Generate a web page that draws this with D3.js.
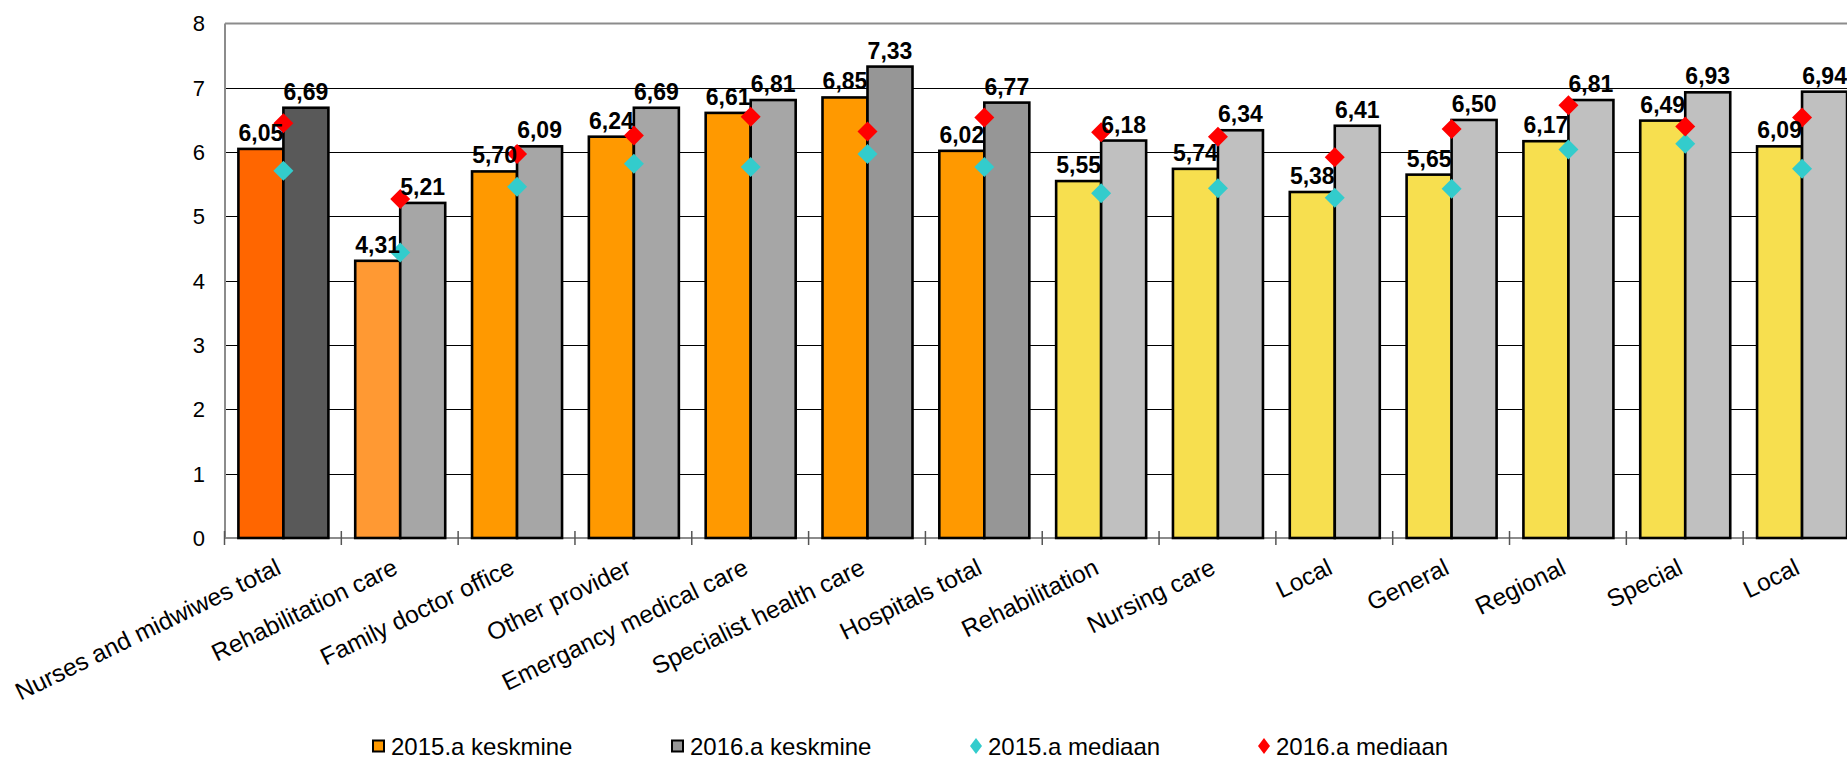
<!DOCTYPE html>
<html><head><meta charset="utf-8">
<script src="https://cdn.jsdelivr.net/npm/d3@7"></script>
<style>
body{margin:0;background:#fff;overflow:hidden;}
svg{display:block;font-family:"Liberation Sans",Arial,Helvetica,sans-serif;}
</style>
</head><body>
<svg id="chart" width="1847" height="759"></svg>
<script>
// ---------- data ----------
const categories = ["Nurses and midwiwes total","Rehabilitation care","Family doctor office","Other provider",
  "Emergancy medical care","Specialist health care","Hospitals total","Rehabilitation","Nursing care",
  "Local","General","Regional","Special","Local"];
const mean2015   = [6.05,4.31,5.70,6.24,6.61,6.85,6.02,5.55,5.74,5.38,5.65,6.17,6.49,6.09];
const mean2016   = [6.69,5.21,6.09,6.69,6.81,7.33,6.77,6.18,6.34,6.41,6.50,6.81,6.93,6.94];
const median2015 = [5.71,4.44,5.46,5.82,5.77,5.97,5.77,5.36,5.44,5.29,5.43,6.04,6.13,5.74];
const median2016 = [6.45,5.27,5.97,6.26,6.55,6.32,6.54,6.31,6.24,5.92,6.36,6.73,6.40,6.54];
const yTicks = [0,1,2,3,4,5,6,7,8];
const seriesNames = ["2015.a keskmine","2016.a keskmine","2015.a mediaan","2016.a mediaan"];

// ---------- styles ----------
const fill2015 = ["#FF6600","#FF9933","#FF9900","#FF9900","#FF9900","#FF9900","#FF9900",
  "#F7DF4F","#F7DF4F","#F7DF4F","#F7DF4F","#F7DF4F","#F7DF4F","#F7DF4F"];
const fill2016 = ["#595959","#A6A6A6","#A6A6A6","#A6A6A6","#A6A6A6","#969696","#969696",
  "#C0C0C0","#C0C0C0","#C0C0C0","#C0C0C0","#C0C0C0","#C0C0C0","#C0C0C0"];
const cyan = "#33CCCC", red = "#FF0000";

const svg = d3.select("#chart");
const plotLeft = 225, plotTop = 23.5, plotBottom = 538, bandW = 116.82;
const n = categories.length;

const x = d3.scaleBand().domain(d3.range(n)).range([plotLeft, plotLeft + n*bandW]).padding(0);
const xs = d3.scaleBand().domain([0,1]).range([13.4, 13.4 + 90]).padding(0);
const y = d3.scaleLinear().domain([0,8]).range([plotBottom, plotTop]);
const fmt = v => d3.format(".2f")(v).replace(".", ",");

// gridlines
svg.append("g").selectAll("line").data(yTicks.filter(t => t>0 && t<8)).join("line")
  .attr("x1", plotLeft).attr("x2", x.range()[1])
  .attr("y1", d => Math.round(y(d))+0.5).attr("y2", d => Math.round(y(d))+0.5)
  .attr("stroke", "#000").attr("stroke-width", 1);

// top border
svg.append("line").attr("x1", plotLeft).attr("x2", x.range()[1])
  .attr("y1", y(8)).attr("y2", y(8)).attr("stroke", "#8c8c8c").attr("stroke-width", 2);

// x axis line
svg.append("line").attr("x1", plotLeft-1).attr("x2", x.range()[1])
  .attr("y1", plotBottom).attr("y2", plotBottom).attr("stroke", "#8c8c8c").attr("stroke-width", 2);

// bars
const groups = svg.append("g").selectAll("g").data(d3.range(n)).join("g")
  .attr("transform", i => `translate(${x(i)},0)`);
groups.append("rect")
  .attr("x", xs(0)).attr("width", xs.bandwidth())
  .attr("y", i => y(mean2015[i])).attr("height", i => y(0) - y(mean2015[i]))
  .attr("fill", i => fill2015[i]).attr("stroke", "#000").attr("stroke-width", 2.6);
groups.append("rect")
  .attr("x", xs(1)).attr("width", xs.bandwidth())
  .attr("y", i => y(mean2016[i])).attr("height", i => y(0) - y(mean2016[i]))
  .attr("fill", i => fill2016[i]).attr("stroke", "#000").attr("stroke-width", 2.6);

// y axis line
svg.append("line").attr("x1", plotLeft).attr("x2", plotLeft)
  .attr("y1", plotTop).attr("y2", plotBottom+1).attr("stroke", "#8c8c8c").attr("stroke-width", 2);

// x ticks (cross)
svg.append("g").selectAll("line").data(d3.range(n+1)).join("line")
  .attr("x1", i => plotLeft + i*bandW - 0.5).attr("x2", i => plotLeft + i*bandW - 0.5)
  .attr("y1", plotBottom-7).attr("y2", plotBottom+7)
  .attr("stroke", "#555").attr("stroke-width", 1.5);

// y tick labels
svg.append("g").selectAll("text").data(yTicks).join("text")
  .attr("x", 205).attr("y", d => y(d)).attr("dy", "0.36em")
  .attr("text-anchor", "end").attr("font-size", 22).attr("fill", "#000")
  .text(d => d);

// category labels
svg.append("g").selectAll("text").data(d3.range(n)).join("text")
  .attr("text-anchor", "end").attr("font-size", 24.5).attr("fill", "#000")
  .attr("transform", i => `translate(${x(i) + x.bandwidth()/2 - 1},573) rotate(-26)`)
  .text(i => categories[i]);

// median markers
const diamond = d3.symbol().type(d3.symbolSquare).size(200);
const cx = i => x(i) + xs(1);
svg.append("g").selectAll("path").data(d3.range(n)).join("path")
  .attr("d", diamond).attr("fill", cyan)
  .attr("transform", i => `translate(${cx(i)},${y(median2015[i])}) rotate(45)`);
svg.append("g").selectAll("path").data(d3.range(n)).join("path")
  .attr("d", diamond).attr("fill", red)
  .attr("transform", i => `translate(${cx(i)},${y(median2016[i])}) rotate(45)`);

// value labels
const lbl = svg.append("g").attr("font-size", 23).attr("font-weight", "bold")
  .attr("text-anchor", "middle").attr("fill", "#000");
lbl.selectAll("text.a").data(d3.range(n)).join("text").attr("class","a")
  .attr("x", i => x(i) + xs(0) + xs.bandwidth()/2).attr("y", i => y(mean2015[i]) - 8)
  .text(i => fmt(mean2015[i]));
lbl.selectAll("text.b").data(d3.range(n)).join("text").attr("class","b")
  .attr("x", i => x(i) + xs(1) + xs.bandwidth()/2).attr("y", i => y(mean2016[i]) - 8)
  .text(i => fmt(mean2016[i]));

// legend
const legX = [373, 672, 970, 1258];
const leg = svg.append("g");
seriesNames.forEach((name, k) => {
  const g = leg.append("g").attr("transform", `translate(${legX[k]},746)`);
  if (k < 2) {
    g.append("rect").attr("x", 0).attr("y", -5.5).attr("width", 11).attr("height", 11)
      .attr("fill", k === 0 ? "#FF9900" : "#969696").attr("stroke", "#000").attr("stroke-width", 2);
  } else {
    g.append("path").attr("d", "M6,-8L12,0L6,8L0,0Z").attr("fill", k === 2 ? cyan : red);
  }
  g.append("text").attr("x", 18).attr("y", 0).attr("dy", "0.36em")
    .attr("font-size", 24).attr("fill", "#000").text(name);
});
</script>
</body></html>
